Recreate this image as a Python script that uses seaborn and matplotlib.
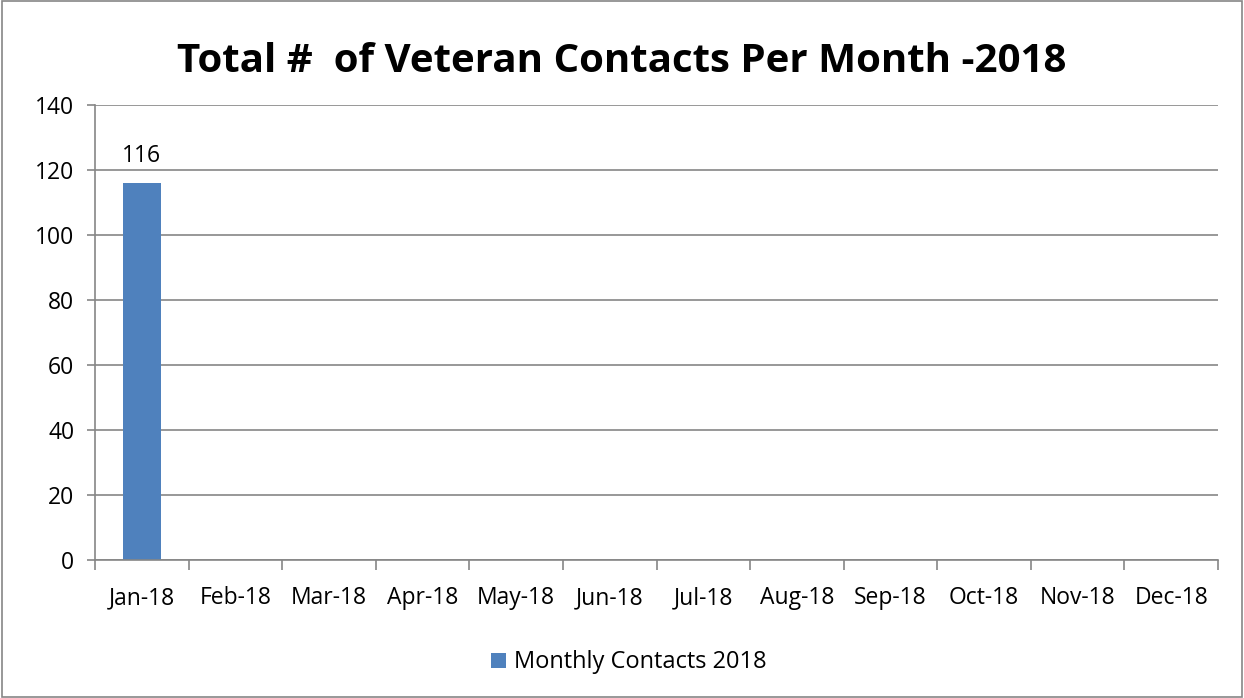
import numpy as np
import pandas as pd
import matplotlib
matplotlib.use("Agg")
import matplotlib.pyplot as plt
from matplotlib.patches import Rectangle
from matplotlib.ticker import FixedLocator
import seaborn as sns

months = ["Jan-18", "Feb-18", "Mar-18", "Apr-18", "May-18", "Jun-18",
          "Jul-18", "Aug-18", "Sep-18", "Oct-18", "Nov-18", "Dec-18"]
contacts = [116, np.nan, np.nan, np.nan, np.nan, np.nan,
            np.nan, np.nan, np.nan, np.nan, np.nan, np.nan]
series_name = "Monthly Contacts 2018"
title = "Total #  of Veteran Contacts Per Month -2018"
yticks = [0, 20, 40, 60, 80, 100, 120, 140]

df = pd.DataFrame({"Month": months, "Contacts": contacts, "Series": series_name})

sns.set_style("white")
plt.rcParams["font.family"] = ["Open Sans", "DejaVu Sans"]
plt.rcParams["text.color"] = "black"
plt.rcParams["xtick.color"] = "black"
plt.rcParams["ytick.color"] = "black"

bar_color = "#4F81BD"
grid_color = "#868686"

fig = plt.figure(figsize=(12.44, 6.98), dpi=100)
fig.patches.append(Rectangle((0.002, 0.002), 0.996, 0.996, transform=fig.transFigure,
                             fill=False, edgecolor=grid_color, linewidth=1.2))
ax = fig.add_axes([0.0764, 0.1977, 0.9027, 0.6519])

sns.barplot(data=df, x="Month", y="Contacts", hue="Series", order=months,
            palette=[bar_color], width=0.41, ax=ax, legend=True, saturation=1,
            linewidth=0)

ax.set_ylim(0, 140)
ax.set_xlim(-0.5, 11.5)
ax.set_yticks(yticks)
ax.yaxis.grid(True, color=grid_color, linewidth=1.2)
ax.set_axisbelow(True)
for s in ["top", "right"]:
    ax.spines[s].set_visible(False)
for s in ["left", "bottom"]:
    ax.spines[s].set_color(grid_color)
    ax.spines[s].set_linewidth(1.2)

ax.tick_params(axis="y", length=6, color=grid_color, width=1.2, labelsize=16.5,
               pad=9, left=True, labelcolor="black")
ax.tick_params(axis="x", which="major", length=0, labelsize=16.5, pad=19, labelcolor="black")
ax.xaxis.set_minor_locator(FixedLocator(np.arange(-0.5, 12, 1)))
ax.tick_params(axis="x", which="minor", length=7, color=grid_color, width=1.2, bottom=True)
ax.set_xlabel("")
ax.set_ylabel("")

for c in ax.containers:
    labels = ["" if np.isnan(v) else f"{int(v)}" for v in c.datavalues]
    ax.bar_label(c, labels=labels, fontsize=16.5, padding=11, color="black")

leg = ax.legend(loc="center", bbox_to_anchor=(0.4755, -0.225), frameon=False, fontsize=17,
                handlelength=0.6, handleheight=0.6, handletextpad=0.35)
for t in leg.get_texts():
    t.set_color("black")

fig.suptitle(title, fontsize=29, fontweight="bold", y=0.94, color="black")

fig.savefig("out.png", dpi=100)
